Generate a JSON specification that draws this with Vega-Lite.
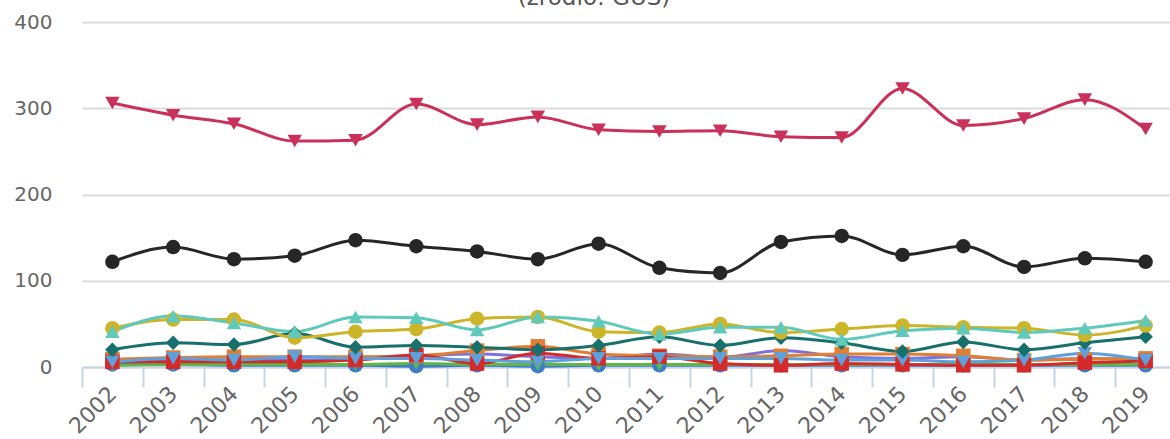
{
  "$schema": "https://vega.github.io/schema/vega-lite/v6.json",
  "autosize": {"type": "none"},
  "padding": {"left": 82, "top": 22, "right": 0, "bottom": 72},
  "width": 1094,
  "height": 345,
  "background": "white",
  "config": {"view": {"stroke": null}, "font": "DejaVu Sans"},
  "title": {"text": "(źródło: GUS)", "fontSize": 23, "fontWeight": "normal", "color": "#555555", "anchor": "middle", "frame": "group", "dx": -35, "dy": 21, "baseline": "bottom", "offset": 0},
  "datasets": {
    "d": [
      {"s": "blue", "y": 2002, "v": 3}, {"s": "blue", "y": 2003, "v": 3}, {"s": "blue", "y": 2004, "v": 2}, {"s": "blue", "y": 2005, "v": 2}, {"s": "blue", "y": 2006, "v": 2}, {"s": "blue", "y": 2007, "v": 1}, {"s": "blue", "y": 2008, "v": 2}, {"s": "blue", "y": 2009, "v": 1}, {"s": "blue", "y": 2010, "v": 2}, {"s": "blue", "y": 2011, "v": 2}, {"s": "blue", "y": 2012, "v": 2}, {"s": "blue", "y": 2013, "v": 2}, {"s": "blue", "y": 2014, "v": 2}, {"s": "blue", "y": 2015, "v": 2}, {"s": "blue", "y": 2016, "v": 2}, {"s": "blue", "y": 2017, "v": 2}, {"s": "blue", "y": 2018, "v": 2}, {"s": "blue", "y": 2019, "v": 2},
      {"s": "green", "y": 2002, "v": 2}, {"s": "green", "y": 2003, "v": 3}, {"s": "green", "y": 2004, "v": 3}, {"s": "green", "y": 2005, "v": 3}, {"s": "green", "y": 2006, "v": 3}, {"s": "green", "y": 2007, "v": 4}, {"s": "green", "y": 2008, "v": 3}, {"s": "green", "y": 2009, "v": 3}, {"s": "green", "y": 2010, "v": 3}, {"s": "green", "y": 2011, "v": 3}, {"s": "green", "y": 2012, "v": 3}, {"s": "green", "y": 2013, "v": 3}, {"s": "green", "y": 2014, "v": 3}, {"s": "green", "y": 2015, "v": 3}, {"s": "green", "y": 2016, "v": 3}, {"s": "green", "y": 2017, "v": 3}, {"s": "green", "y": 2018, "v": 3}, {"s": "green", "y": 2019, "v": 3},
      {"s": "purple", "y": 2002, "v": 8}, {"s": "purple", "y": 2003, "v": 8}, {"s": "purple", "y": 2004, "v": 8}, {"s": "purple", "y": 2005, "v": 8}, {"s": "purple", "y": 2006, "v": 9}, {"s": "purple", "y": 2007, "v": 13}, {"s": "purple", "y": 2008, "v": 15}, {"s": "purple", "y": 2009, "v": 12}, {"s": "purple", "y": 2010, "v": 10}, {"s": "purple", "y": 2011, "v": 15}, {"s": "purple", "y": 2012, "v": 11}, {"s": "purple", "y": 2013, "v": 19}, {"s": "purple", "y": 2014, "v": 12}, {"s": "purple", "y": 2015, "v": 10}, {"s": "purple", "y": 2016, "v": 12}, {"s": "purple", "y": 2017, "v": 8}, {"s": "purple", "y": 2018, "v": 10}, {"s": "purple", "y": 2019, "v": 9},
      {"s": "orange", "y": 2002, "v": 9}, {"s": "orange", "y": 2003, "v": 11}, {"s": "orange", "y": 2004, "v": 12}, {"s": "orange", "y": 2005, "v": 12}, {"s": "orange", "y": 2006, "v": 12}, {"s": "orange", "y": 2007, "v": 13}, {"s": "orange", "y": 2008, "v": 19}, {"s": "orange", "y": 2009, "v": 24}, {"s": "orange", "y": 2010, "v": 15}, {"s": "orange", "y": 2011, "v": 13}, {"s": "orange", "y": 2012, "v": 12}, {"s": "orange", "y": 2013, "v": 13}, {"s": "orange", "y": 2014, "v": 15}, {"s": "orange", "y": 2015, "v": 15}, {"s": "orange", "y": 2016, "v": 13}, {"s": "orange", "y": 2017, "v": 8}, {"s": "orange", "y": 2018, "v": 9}, {"s": "orange", "y": 2019, "v": 10},
      {"s": "red", "y": 2002, "v": 6}, {"s": "red", "y": 2003, "v": 6}, {"s": "red", "y": 2004, "v": 6}, {"s": "red", "y": 2005, "v": 6}, {"s": "red", "y": 2006, "v": 8}, {"s": "red", "y": 2007, "v": 14}, {"s": "red", "y": 2008, "v": 4}, {"s": "red", "y": 2009, "v": 16}, {"s": "red", "y": 2010, "v": 10}, {"s": "red", "y": 2011, "v": 12}, {"s": "red", "y": 2012, "v": 4}, {"s": "red", "y": 2013, "v": 2}, {"s": "red", "y": 2014, "v": 4}, {"s": "red", "y": 2015, "v": 3}, {"s": "red", "y": 2016, "v": 2}, {"s": "red", "y": 2017, "v": 2}, {"s": "red", "y": 2018, "v": 5}, {"s": "red", "y": 2019, "v": 7},
      {"s": "lightblue", "y": 2002, "v": 6}, {"s": "lightblue", "y": 2003, "v": 10}, {"s": "lightblue", "y": 2004, "v": 8}, {"s": "lightblue", "y": 2005, "v": 12}, {"s": "lightblue", "y": 2006, "v": 10}, {"s": "lightblue", "y": 2007, "v": 10}, {"s": "lightblue", "y": 2008, "v": 8}, {"s": "lightblue", "y": 2009, "v": 6}, {"s": "lightblue", "y": 2010, "v": 10}, {"s": "lightblue", "y": 2011, "v": 10}, {"s": "lightblue", "y": 2012, "v": 10}, {"s": "lightblue", "y": 2013, "v": 10}, {"s": "lightblue", "y": 2014, "v": 8}, {"s": "lightblue", "y": 2015, "v": 8}, {"s": "lightblue", "y": 2016, "v": 6}, {"s": "lightblue", "y": 2017, "v": 8}, {"s": "lightblue", "y": 2018, "v": 16}, {"s": "lightblue", "y": 2019, "v": 8},
      {"s": "darkteal", "y": 2002, "v": 20}, {"s": "darkteal", "y": 2003, "v": 28}, {"s": "darkteal", "y": 2004, "v": 26}, {"s": "darkteal", "y": 2005, "v": 39}, {"s": "darkteal", "y": 2006, "v": 23}, {"s": "darkteal", "y": 2007, "v": 25}, {"s": "darkteal", "y": 2008, "v": 23}, {"s": "darkteal", "y": 2009, "v": 20}, {"s": "darkteal", "y": 2010, "v": 25}, {"s": "darkteal", "y": 2011, "v": 35}, {"s": "darkteal", "y": 2012, "v": 25}, {"s": "darkteal", "y": 2013, "v": 34}, {"s": "darkteal", "y": 2014, "v": 28}, {"s": "darkteal", "y": 2015, "v": 18}, {"s": "darkteal", "y": 2016, "v": 29}, {"s": "darkteal", "y": 2017, "v": 20}, {"s": "darkteal", "y": 2018, "v": 28}, {"s": "darkteal", "y": 2019, "v": 35},
      {"s": "gold", "y": 2002, "v": 45}, {"s": "gold", "y": 2003, "v": 55}, {"s": "gold", "y": 2004, "v": 55}, {"s": "gold", "y": 2005, "v": 34}, {"s": "gold", "y": 2006, "v": 41}, {"s": "gold", "y": 2007, "v": 44}, {"s": "gold", "y": 2008, "v": 56}, {"s": "gold", "y": 2009, "v": 58}, {"s": "gold", "y": 2010, "v": 41}, {"s": "gold", "y": 2011, "v": 40}, {"s": "gold", "y": 2012, "v": 50}, {"s": "gold", "y": 2013, "v": 40}, {"s": "gold", "y": 2014, "v": 44}, {"s": "gold", "y": 2015, "v": 48}, {"s": "gold", "y": 2016, "v": 46}, {"s": "gold", "y": 2017, "v": 45}, {"s": "gold", "y": 2018, "v": 37}, {"s": "gold", "y": 2019, "v": 48},
      {"s": "lightteal", "y": 2002, "v": 41}, {"s": "lightteal", "y": 2003, "v": 59}, {"s": "lightteal", "y": 2004, "v": 51}, {"s": "lightteal", "y": 2005, "v": 41}, {"s": "lightteal", "y": 2006, "v": 58}, {"s": "lightteal", "y": 2007, "v": 57}, {"s": "lightteal", "y": 2008, "v": 43}, {"s": "lightteal", "y": 2009, "v": 58}, {"s": "lightteal", "y": 2010, "v": 53}, {"s": "lightteal", "y": 2011, "v": 38}, {"s": "lightteal", "y": 2012, "v": 46}, {"s": "lightteal", "y": 2013, "v": 46}, {"s": "lightteal", "y": 2014, "v": 32}, {"s": "lightteal", "y": 2015, "v": 42}, {"s": "lightteal", "y": 2016, "v": 45}, {"s": "lightteal", "y": 2017, "v": 40}, {"s": "lightteal", "y": 2018, "v": 45}, {"s": "lightteal", "y": 2019, "v": 54},
      {"s": "black", "y": 2002, "v": 122}, {"s": "black", "y": 2003, "v": 139}, {"s": "black", "y": 2004, "v": 125}, {"s": "black", "y": 2005, "v": 129}, {"s": "black", "y": 2006, "v": 147}, {"s": "black", "y": 2007, "v": 140}, {"s": "black", "y": 2008, "v": 134}, {"s": "black", "y": 2009, "v": 125}, {"s": "black", "y": 2010, "v": 143}, {"s": "black", "y": 2011, "v": 115}, {"s": "black", "y": 2012, "v": 109}, {"s": "black", "y": 2013, "v": 145}, {"s": "black", "y": 2014, "v": 152}, {"s": "black", "y": 2015, "v": 130}, {"s": "black", "y": 2016, "v": 140}, {"s": "black", "y": 2017, "v": 116}, {"s": "black", "y": 2018, "v": 126}, {"s": "black", "y": 2019, "v": 122},
      {"s": "crimson", "y": 2002, "v": 306}, {"s": "crimson", "y": 2003, "v": 292}, {"s": "crimson", "y": 2004, "v": 282}, {"s": "crimson", "y": 2005, "v": 262}, {"s": "crimson", "y": 2006, "v": 263}, {"s": "crimson", "y": 2007, "v": 305}, {"s": "crimson", "y": 2008, "v": 281}, {"s": "crimson", "y": 2009, "v": 290}, {"s": "crimson", "y": 2010, "v": 275}, {"s": "crimson", "y": 2011, "v": 273}, {"s": "crimson", "y": 2012, "v": 274}, {"s": "crimson", "y": 2013, "v": 267}, {"s": "crimson", "y": 2014, "v": 266}, {"s": "crimson", "y": 2015, "v": 323}, {"s": "crimson", "y": 2016, "v": 280}, {"s": "crimson", "y": 2017, "v": 288}, {"s": "crimson", "y": 2018, "v": 310}, {"s": "crimson", "y": 2019, "v": 276}
    ]
  },
  "data": {"name": "d"},
  "encoding": {
    "x": {
      "field": "y", "type": "ordinal",
      "scale": {"type": "band", "paddingInner": 0, "paddingOuter": 0},
      "axis": {"title": null, "labelAngle": -45, "labelAlign": "right", "labelBaseline": "middle", "labelFontSize": 22, "labelColor": "#666666", "labelPadding": 3, "domainColor": "#c6d4e4", "domainWidth": 2, "tickColor": "#c6d4e4", "tickWidth": 2, "tickSize": 20, "tickBand": "extent", "grid": false}
    },
    "y": {
      "field": "v", "type": "quantitative",
      "scale": {"domain": [0, 400], "nice": false},
      "axis": {"title": null, "values": [0, 100, 200, 300, 400], "domain": false, "ticks": false, "labelFontSize": 20, "labelColor": "#666666", "labelPadding": 30, "gridColor": "#dcdcdc", "gridWidth": 2}
    },
    "color": {
      "field": "s", "type": "nominal", "legend": null,
      "scale": {
        "domain": ["blue", "green", "purple", "orange", "red", "lightblue", "darkteal", "gold", "lightteal", "black", "crimson"],
        "range": ["#3d7cc9", "#5fb548", "#7d72dd", "#e07f32", "#d42a2a", "#5fa0da", "#17706b", "#cdb52a", "#5fcabb", "#262626", "#c9305a"]
      }
    }
  },
  "layer": [
    {
      "mark": {"type": "line", "strokeWidth": 3, "interpolate": "monotone"},
      "encoding": {"detail": {"field": "s"}}
    },
    {
      "transform": [{"filter": "datum.s !== 'purple'"}],
      "mark": {"type": "point", "filled": true, "opacity": 1, "size": 210},
      "encoding": {
        "shape": {
          "field": "s", "type": "nominal", "legend": null,
          "scale": {
            "domain": ["blue", "green", "orange", "red", "lightblue", "darkteal", "gold", "lightteal", "black", "crimson"],
            "range": ["circle", "triangle-down", "square", "square", "triangle-down", "diamond", "circle", "triangle-up", "circle", "triangle-down"]
          }
        }
      }
    }
  ]
}
